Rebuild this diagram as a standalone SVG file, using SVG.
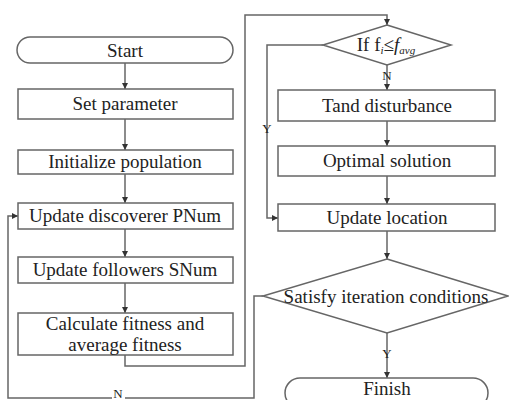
<svg xmlns="http://www.w3.org/2000/svg" width="509" height="400" viewBox="0 0 509 400">
<defs>
<marker id="ah" viewBox="0 0 6 6" refX="6" refY="3" markerWidth="6" markerHeight="6" orient="auto" markerUnits="userSpaceOnUse">
<path d="M0,0 L6,3 L0,6 z" fill="#333"/>
</marker>
<style>
.box{fill:#fff;stroke:#666;stroke-width:1.5}
.t{font-family:'Liberation Serif','DejaVu Serif','Times New Roman',serif;font-size:19px;fill:#222;text-anchor:middle}
.lbl{font-family:'Liberation Serif','DejaVu Serif','Times New Roman',serif;font-size:13px;fill:#222;text-anchor:middle}
.c{fill:none;stroke:#666;stroke-width:1.5}
.ca{fill:none;stroke:#666;stroke-width:1.5;marker-end:url(#ah)}
</style>
</defs>
<rect width="509" height="400" fill="#fff"/>
<g id="connectors">
<path class="ca" d="M125,63 V89"/>
<path class="ca" d="M125,119 V150"/>
<path class="ca" d="M125,174 V203"/>
<path class="ca" d="M125,229 V257"/>
<path class="ca" d="M125,283 V313"/>
<path class="ca" d="M125,355 V366 H245 V15 H387 V25"/>
<path class="ca" d="M387,65 V90"/>
<path class="ca" d="M387,121 V146"/>
<path class="ca" d="M387,176 V204"/>
<path class="ca" d="M323,45 H267 V218 H278"/>
<path class="ca" d="M387,231 V259"/>
<path class="ca" d="M387,333 V378"/>
<path class="c" d="M263,296 H254 V398 H125"/>
<path class="ca" d="M112,398 H8 V216 H18"/>
<text class="lbl" x="387" y="80">N</text>
<text class="lbl" x="267" y="133">Y</text>
<text class="lbl" x="387" y="358">Y</text>
<text class="lbl" x="118" y="398">N</text>
</g>
<g id="start">
<rect class="box" x="17" y="37" width="216" height="26" rx="13"/>
<text class="t" x="125" y="57">Start</text>
</g>
<g id="set-parameter">
<rect class="box" x="18" y="89" width="215" height="30"/>
<text class="t" x="125" y="110">Set parameter</text>
</g>
<g id="init-population">
<rect class="box" x="18" y="150" width="215" height="24"/>
<text class="t" x="125" y="168">Initialize population</text>
</g>
<g id="update-discoverer">
<rect class="box" x="18" y="203" width="215" height="26"/>
<text class="t" x="125" y="222">Update discoverer PNum</text>
</g>
<g id="update-followers">
<rect class="box" x="18" y="257" width="215" height="26"/>
<text class="t" x="125" y="276">Update followers SNum</text>
</g>
<g id="calc-fitness">
<rect class="box" x="18" y="313" width="215" height="42"/>
<text class="t" x="125" y="330">Calculate fitness and</text>
<text class="t" x="125" y="351">average fitness</text>
</g>
<g id="if-fi">
<polygon class="box" points="387,25 451,45 387,65 323,45"/>
<text class="t" x="386" y="51" font-size="17">If f<tspan font-size="11" dy="3" font-style="italic">i</tspan><tspan dy="-3">≤</tspan><tspan font-style="italic">f</tspan><tspan font-size="11" dy="3" font-style="italic">avg</tspan></text>
</g>
<g id="tand-disturbance">
<rect class="box" x="278" y="90" width="217" height="31"/>
<text class="t" x="387" y="112">Tand disturbance</text>
</g>
<g id="optimal-solution">
<rect class="box" x="278" y="146" width="217" height="30"/>
<text class="t" x="387" y="167">Optimal solution</text>
</g>
<g id="update-location">
<rect class="box" x="278" y="204" width="217" height="27"/>
<text class="t" x="387" y="224">Update location</text>
</g>
<g id="satisfy">
<polygon class="box" points="387,259 508,296 387,333 263,296"/>
<text class="t" x="386" y="303">Satisfy iteration conditions</text>
</g>
<g id="finish">
<rect class="box" x="285" y="378" width="203" height="30" rx="15"/>
<text class="t" x="387" y="395" font-size="18">Finish</text>
</g>
</svg>
